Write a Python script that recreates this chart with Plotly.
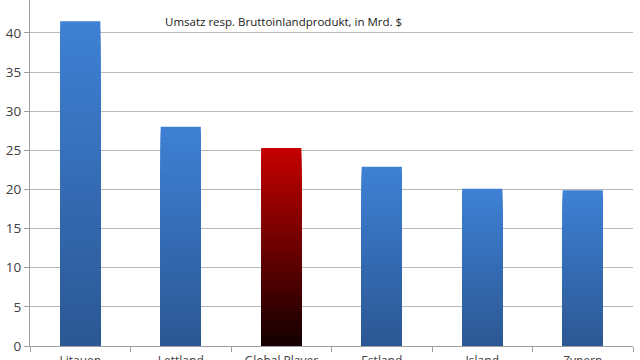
import plotly.graph_objects as go

categories = ["Litauen", "Lettland", "Global Player", "Estland", "Island", "Zypern"]
values = [41.5, 28.0, 25.3, 22.9, 20.1, 19.9]
highlight = [False, False, True, False, False, False]
title_text = "Umsatz resp. Bruttoinlandprodukt, in Mrd. $"

blue_top, blue_bot = (62, 128, 212), (44, 88, 148)
red_top, red_bot = (196, 0, 0), (20, 0, 0)

def mix(a, b, t):
    return "rgb(%d,%d,%d)" % tuple(round(a[i] + (b[i] - a[i]) * t) for i in range(3))

N = 40
fig = go.Figure()
for k in range(N):
    frac = 1 - k / N
    t = k / (N - 1)
    colors = [mix(red_top, red_bot, t) if h else mix(blue_top, blue_bot, t) for h in highlight]
    fig.add_trace(go.Bar(
        x=categories, y=[v * frac for v in values],
        marker=dict(color=colors, line=dict(width=0)),
        width=0.4, showlegend=False, hoverinfo="skip" if k else None,
    ))

fig.update_layout(
    barmode="overlay",
    width=640, height=360,
    margin=dict(l=30, r=7, t=0, b=14),
    paper_bgcolor="white", plot_bgcolor="white",
    font=dict(family="Open Sans", color="#404040"),
    annotations=[dict(text=title_text, xref="x domain", yref="y domain",
                      x=(283 - 30) / 603, y=1 - 12 / 346,
                      showarrow=False, font=dict(size=11.5, color="#202020"))],
)
fig.update_yaxes(range=[0, 44.2], dtick=5, tick0=0, showgrid=True, gridcolor="#b8b8b8",
                 gridwidth=1, showline=True, linecolor="#a0a0a0", ticks="outside",
                 ticklen=5, tickcolor="#a0a0a0", tickfont=dict(size=13.5, color="#404040"),
                 automargin=False, zeroline=False)
fig.update_xaxes(showline=True, linecolor="#a0a0a0", ticks="outside", tickson="boundaries",
                 ticklen=5, tickcolor="#a0a0a0", tickfont=dict(size=12, color="#404040"),
                 ticklabelstandoff=4, automargin=False, showgrid=False)

fig.write_html("out.html")
